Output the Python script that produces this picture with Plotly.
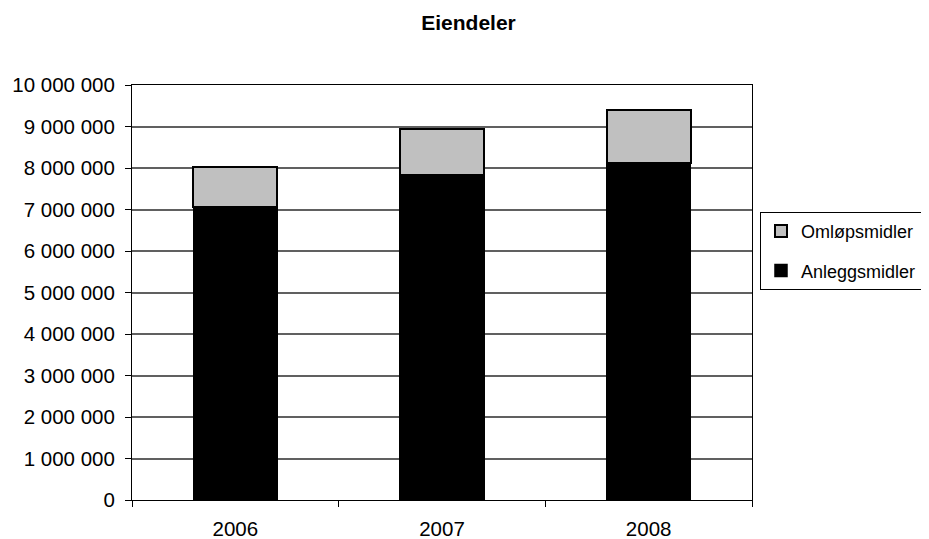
import plotly.graph_objects as go

years = ["2006", "2007", "2008"]
anleggsmidler = [7060000, 7830000, 8120000]
omlopsmidler = [960000, 1120000, 1280000]
ytick_vals = [0, 1000000, 2000000, 3000000, 4000000, 5000000, 6000000, 7000000, 8000000, 9000000, 10000000]
ytick_text = ["0", "1 000 000", "2 000 000", "3 000 000", "4 000 000", "5 000 000",
              "6 000 000", "7 000 000", "8 000 000", "9 000 000", "10 000 000"]

fig = go.Figure()
fig.add_trace(go.Bar(x=years, y=anleggsmidler, name="Anleggsmidler", legendgroup="a", legendrank=2,
                     marker=dict(color="#000000", line=dict(color="#000000", width=1.5))))
fig.add_trace(go.Bar(x=years, y=omlopsmidler, name="Omløpsmidler", legendgroup="b", legendrank=1,
                     marker=dict(color="#C0C0C0", line=dict(color="#000000", width=2))))

fig.update_layout(
    width=921, height=531,
    barmode="stack", bargap=0.595,
    paper_bgcolor="white", plot_bgcolor="white",
    margin=dict(l=124, r=177, t=77, b=39, autoexpand=False),
    font=dict(family="Liberation Sans, Arial, sans-serif", size=20, color="#000000"),
    title=dict(text="<b>Eiendeler</b>", x=0.5, xanchor="center", y=0.973, yanchor="middle",
               font=dict(size=21, color="#000000")),
    legend=dict(xref="container", yref="container", x=0.8165, xanchor="left", y=0.616, yanchor="top",
                traceorder="grouped", bordercolor="#000000", borderwidth=1,
                font=dict(size=18), itemclick=False, tracegroupgap=13),
    showlegend=True,
)
fig.update_yaxes(range=[0, 10000000], tickvals=ytick_vals, ticktext=ytick_text, automargin=False,
                 showgrid=True, gridcolor="#606060", gridwidth=1.5,
                 ticks="outside", ticklen=6, tickcolor="#000000",
                 showline=True, linecolor="#000000", linewidth=1, mirror=True,
                 zeroline=False, tickfont=dict(size=20.5), ticklabelstandoff=6)
fig.update_xaxes(tickson="boundaries", ticks="outside", ticklen=6, tickcolor="#000000", automargin=False,
                 showline=True, linecolor="#000000", linewidth=1, mirror=True,
                 showgrid=False, tickfont=dict(size=20.5), ticklabelstandoff=10)

fig.write_html("out.html")
